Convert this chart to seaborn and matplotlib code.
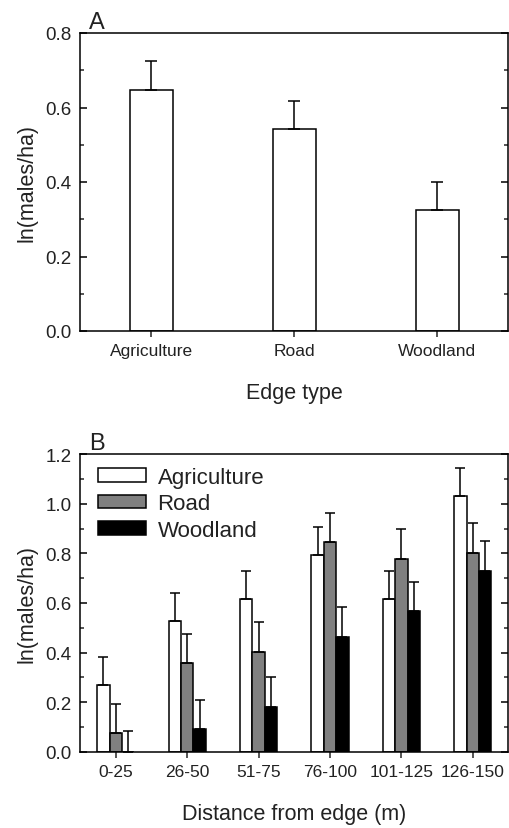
import matplotlib
matplotlib.use("Agg")
import matplotlib.pyplot as plt
from matplotlib.ticker import MultipleLocator, FormatStrFormatter
import seaborn as sns
import pandas as pd

# ---- data ----
edge_types = ["Agriculture", "Road", "Woodland"]
a_means = [0.646, 0.541, 0.324]
a_se = [0.078, 0.076, 0.076]

distances = ["0-25", "26-50", "51-75", "76-100", "101-125", "126-150"]
agri_means = [0.269, 0.526, 0.615, 0.792, 0.616, 1.033]
agri_se = [0.114, 0.114, 0.114, 0.113, 0.114, 0.113]
road_means = [0.074, 0.358, 0.401, 0.846, 0.779, 0.802]
road_se = [0.118, 0.118, 0.122, 0.117, 0.119, 0.119]
wood_means = [0.0, 0.091, 0.182, 0.464, 0.566, 0.729]
wood_se = [0.085, 0.117, 0.121, 0.121, 0.119, 0.120]

colors = {"Agriculture": "white", "Road": "#808080", "Woodland": "black"}

sns.set_style("ticks")
plt.rcParams["font.family"] = ["Liberation Sans", "DejaVu Sans"]
plt.rcParams["axes.linewidth"] = 1.1

fig = plt.figure(figsize=(5.10, 8.29), dpi=100)
axA = fig.add_axes([80 / 510, 1 - 332 / 829, 428.5 / 510, 298 / 829])
axB = fig.add_axes([80 / 510, 1 - 752.7 / 829, 428.5 / 510, 297.4 / 829])

lw = 1.1
xtick_fs = 12.5
ytick_fs = 13.5
lab_fs = 15.5
txt_col = "#222222"

# ---- Panel A ----
dfA = pd.DataFrame({"edge": edge_types, "val": a_means})
sns.barplot(data=dfA, x="edge", y="val", order=edge_types, color="white",
            edgecolor="black", linewidth=lw, width=0.30, errorbar=None,
            saturation=1, ax=axA)
for bar, err in zip(axA.containers[0], a_se):
    axA.errorbar(bar.get_x() + bar.get_width() / 2, bar.get_height(),
                 yerr=[[0], [err]], fmt="none", ecolor="black",
                 elinewidth=lw, capsize=4, capthick=lw, zorder=3)

# ---- Panel B ----
dfB = pd.DataFrame({
    "dist": distances * 3,
    "edge": ["Agriculture"] * 6 + ["Road"] * 6 + ["Woodland"] * 6,
    "val": agri_means + road_means + wood_means,
})
sns.barplot(data=dfB, x="dist", y="val", hue="edge", order=distances,
            hue_order=edge_types, palette=colors, edgecolor="black",
            linewidth=lw, width=0.52, errorbar=None, saturation=1, ax=axB)
for cont, errs in zip(axB.containers, [agri_se, road_se, wood_se]):
    for bar, err in zip(cont, errs):
        axB.errorbar(bar.get_x() + bar.get_width() / 2, bar.get_height(),
                     yerr=[[0], [err]], fmt="none", ecolor="black",
                     elinewidth=lw, capsize=3.3, capthick=lw, zorder=3)

leg = axB.legend(loc="upper left", bbox_to_anchor=(0.041, 0.958),
                 frameon=False, fontsize=16, handlelength=2.2,
                 handleheight=0.56, handletextpad=0.5, labelspacing=0.25,
                 borderpad=0, borderaxespad=0)
for h in leg.legend_handles:
    h.set_edgecolor("black")
    h.set_linewidth(lw)
for t in leg.get_texts():
    t.set_color(txt_col)

# ---- styling ----
for ax, ymax, xlabel, letter in [
    (axA, 0.8, "Edge type", "A"),
    (axB, 1.2, "Distance from edge (m)", "B"),
]:
    ax.set_ylim(0, ymax)
    ax.set_xlim(-0.5, len(ax.get_xticks()) - 0.5)
    ax.yaxis.set_major_locator(MultipleLocator(0.2))
    ax.yaxis.set_minor_locator(MultipleLocator(0.1))
    ax.yaxis.set_major_formatter(FormatStrFormatter("%.1f"))
    ax.tick_params(axis="y", which="major", direction="in", length=5,
                   width=lw, left=True, right=True, labelsize=ytick_fs,
                   pad=6, color="black", labelcolor=txt_col)
    ax.tick_params(axis="y", which="minor", direction="in", length=3,
                   width=lw, left=True, right=True)
    ax.tick_params(axis="x", which="major", direction="out", length=4,
                   width=lw, labelsize=xtick_fs, pad=5, top=False,
                   labelcolor=txt_col)
    for s in ax.spines.values():
        s.set_visible(True)
        s.set_color("black")
        s.set_linewidth(lw)
    ax.set_xlabel(xlabel, fontsize=lab_fs, labelpad=17, color=txt_col)
    ax.set_ylabel("ln(males/ha)", fontsize=lab_fs, labelpad=6, color=txt_col)
    ax.text(0.022, 1.0, letter, transform=ax.transAxes, fontsize=17,
            ha="left", va="bottom", color=txt_col)

fig.savefig("out.png", dpi=100)
